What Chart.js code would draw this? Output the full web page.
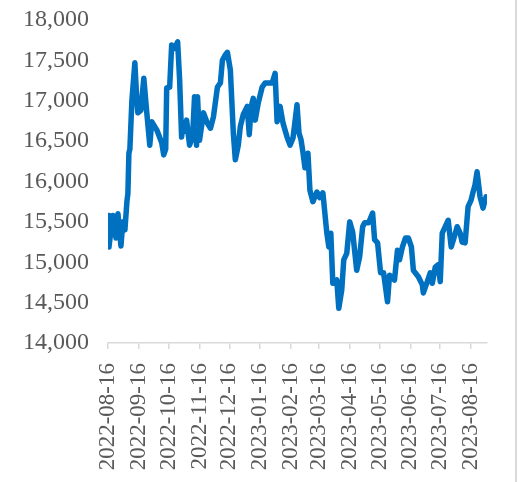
<!DOCTYPE html>
<html>
<head>
<meta charset="utf-8">
<script src="https://cdn.jsdelivr.net/npm/chart.js@4/dist/chart.umd.min.js"></script>
<style>
  body { margin: 0; background: #fff; }
  #wrap { position: relative; width: 518px; height: 482px; }
  #edge { position: absolute; left: 515px; top: 0; width: 2px; height: 482px; background: #d9d9d9; }
</style>
</head>
<body>
<div id="wrap"><canvas id="priceChart" width="518" height="482"></canvas><div id="edge"></div></div>
<script>
// days counted from 2022-08-16
const startDate = '2022-08-16';
const dayOffsets = [
  0, 1, 3, 5, 8, 10, 13, 15, 17, 19, 20, 21, 22, 24, 27, 29, 30, 33, 36, 39,
  42, 44, 49, 54, 56, 58, 59, 62, 64, 67, 70, 72, 74, 75, 77, 79, 82, 85, 87, 89,
  90, 92, 96, 100, 103, 106, 110, 113, 115, 118, 120, 123, 126, 128, 131, 133, 136, 140, 142, 144,
  146, 148, 151, 155, 158, 165, 168, 170, 173, 176, 180, 183, 186, 190, 192, 194, 196, 198, 201, 203,
  206, 210, 213, 216, 220, 222, 224, 226, 230, 232, 235, 237, 240, 243, 246, 250, 253, 256, 258, 262,
  266, 268, 271, 274, 277, 281, 283, 286, 288, 291, 293, 296, 299, 302, 305, 307, 312, 316, 317, 321,
  324, 326, 329, 332, 334, 336, 339, 342, 345, 348, 351, 354, 356, 359, 362, 365, 367, 369, 371, 372,
  374, 377, 380
];
const closeValues = [
  15580, 15190, 15400, 15580, 15300, 15600, 15200, 15500, 15400, 15750, 15850, 16350, 16400, 17000, 17470, 17000, 16850, 16880, 17280, 16850,
  16450, 16740, 16640, 16480, 16330, 16400, 17160, 17170, 17690, 17650, 17730, 17260, 16550, 16700, 16620, 16760, 16450, 16550, 17050, 16450,
  17050, 16510, 16850, 16720, 16660, 16800, 17170, 17220, 17500, 17570, 17600, 17380, 16600, 16270, 16450, 16680, 16830, 16930, 16580, 16930,
  17030, 16760, 16970, 17170, 17220, 17220, 17340, 16740, 16930, 16720, 16550, 16450, 16540, 16950, 16600, 16520, 16360, 16170, 16350, 15890,
  15750, 15870, 15800, 15860, 15360, 15190, 15360, 14740, 14780, 14430, 14660, 15030, 15110, 15500, 15370, 14900, 15070, 15440, 15490, 15490,
  15610, 15280, 15240, 14870, 14870, 14510, 14840, 14800, 14780, 15150, 15030, 15190, 15300, 15300, 15190, 14900, 14820, 14720, 14620, 14760,
  14870, 14740, 14940, 14970, 14760, 15360, 15440, 15520, 15190, 15310, 15440, 15360, 15250, 15240, 15690, 15770, 15870, 15960, 16120, 16020,
  15810, 15670, 15810
];
const tickLabels = [
  '2022-08-16', '2022-09-16', '2022-10-16', '2022-11-16', '2022-12-16', '2023-01-16', '2023-02-16',
  '2023-03-16', '2023-04-16', '2023-05-16', '2023-06-16', '2023-07-16', '2023-08-16'
];

function daysFromStart(s) {
  const p = s.split('-').map(Number);
  const q = startDate.split('-').map(Number);
  return Math.round((Date.UTC(p[0], p[1] - 1, p[2]) - Date.UTC(q[0], q[1] - 1, q[2])) / 86400000);
}
const tickOffsets = tickLabels.map(daysFromStart);

const points = dayOffsets.map((d, i) => ({ x: d, y: closeValues[i] }));
const serif = "'Liberation Serif', 'Times New Roman', serif";

new Chart(document.getElementById('priceChart'), {
  type: 'line',
  data: {
    datasets: [{
      data: points,
      borderColor: '#0070C0',
      borderWidth: 5.5,
      pointRadius: 0,
      tension: 0,
      borderJoinStyle: 'round',
      borderCapStyle: 'round'
    }]
  },
  options: {
    responsive: false,
    animation: false,
    layout: { padding: { top: 20, right: 31, left: 0, bottom: 0 } },
    plugins: { legend: { display: false }, tooltip: { enabled: false } },
    scales: {
      x: {
        type: 'linear',
        min: 0,
        max: 381,
        afterBuildTicks: function (scale) {
          scale.ticks = tickOffsets.map(v => ({ value: v }));
        },
        afterFit: function (scale) {
          scale.height = 139;
          scale.paddingLeft = 0;
          scale.paddingRight = 0;
        },
        ticks: {
          font: { family: serif, size: 23 },
          color: '#595959',
          minRotation: 90,
          maxRotation: 90,
          padding: 14,
          autoSkip: false,
          callback: function (value) {
            const i = tickOffsets.indexOf(value);
            return i >= 0 ? tickLabels[i] : '';
          }
        },
        grid: { drawOnChartArea: false, drawTicks: true, tickLength: 6, color: '#d9d9d9', lineWidth: 1.5 },
        border: { color: '#d9d9d9', width: 1.5 }
      },
      y: {
        min: 14000,
        max: 18000,
        afterFit: function (scale) {
          scale.width = 108;
          scale.paddingTop = 0;
          scale.paddingBottom = 0;
        },
        ticks: {
          stepSize: 500,
          font: { family: serif, size: 24 },
          color: '#595959',
          padding: 11,
          callback: v => v.toLocaleString('en-US')
        },
        grid: { display: false },
        border: { display: false }
      }
    }
  }
});
</script>
</body>
</html>
